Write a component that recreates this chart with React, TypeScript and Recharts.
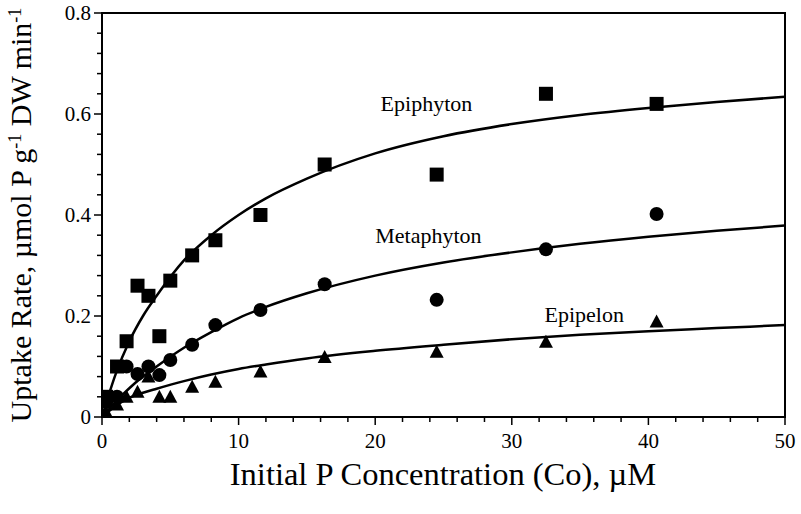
import { ComposedChart, XAxis, YAxis, Line, Scatter, ReferenceArea, ReferenceDot } from "recharts";

// measured uptake, shared concentrations (µM)
const concentrations = [0.3, 1.1, 1.8, 2.6, 3.4, 4.2, 5.0, 6.6, 8.3, 11.6, 16.3, 24.5, 32.5, 40.6];
const epiphytonRate = [0.04, 0.1, 0.15, 0.26, 0.24, 0.16, 0.27, 0.32, 0.35, 0.4, 0.5, 0.48, 0.64, 0.62];
const metaphytonRate = [0.03, 0.04, 0.1, 0.085, 0.1, 0.083, 0.113, 0.143, 0.182, 0.212, 0.263, 0.232, 0.332, 0.402];
const epipelonRate = [0.01, 0.025, 0.04, 0.05, 0.08, 0.04, 0.04, 0.06, 0.07, 0.09, 0.119, 0.129, 0.149, 0.189];

// fitted curves
const fitConc = [0, 1, 2, 3, 4, 6, 8, 10, 12, 15, 20, 25, 30, 35, 40, 45, 50];
const epiphytonFit = [0, 0.085, 0.15, 0.2, 0.24, 0.31, 0.36, 0.4, 0.433, 0.472, 0.522, 0.556, 0.58, 0.598, 0.612, 0.624, 0.634];
const metaphytonFit = [0, 0.03, 0.057, 0.08, 0.1, 0.137, 0.168, 0.196, 0.218, 0.245, 0.28, 0.306, 0.326, 0.343, 0.357, 0.369, 0.379];
const epipelonFit = [0, 0.022, 0.038, 0.048, 0.056, 0.071, 0.084, 0.095, 0.104, 0.116, 0.131, 0.143, 0.154, 0.163, 0.17, 0.176, 0.182];

const xTicks = Array.from({ length: 26 }, (_, i) => i * 2);
const xLabels = [0, 10, 20, 30, 40, 50];
const yTicks = Array.from({ length: 21 }, (_, i) => +(i * 0.04).toFixed(2));
const yLabels = [0, 0.2, 0.4, 0.6, 0.8];

const FONT = "'Liberation Serif', 'Times New Roman', serif";

const toPoints = (xs: number[], ys: number[]) => xs.map((x, i) => ({ x, y: ys[i] }));

const XTick = (props: any) => {
  const { x, y, payload } = props;
  const major = xLabels.includes(payload.value);
  return (
    <g>
      <line x1={x} x2={x} y1={y} y2={y + (major ? 8 : 5)} stroke="#000" strokeWidth={1.5} />
      {major && (
        <text x={x} y={y + 31} textAnchor="middle" fontSize={21} fontFamily={FONT} fill="#000">
          {payload.value}
        </text>
      )}
    </g>
  );
};

const YTick = (props: any) => {
  const { x, y, payload } = props;
  const major = yLabels.some((v) => Math.abs(v - payload.value) < 1e-6);
  return (
    <g>
      <line x1={x - (major ? 8 : 5)} x2={x} y1={y} y2={y} stroke="#000" strokeWidth={1.5} />
      {major && (
        <text x={x - 11} y={y + 7} textAnchor="end" fontSize={21} fontFamily={FONT} fill="#000">
          {String(payload.value)}
        </text>
      )}
    </g>
  );
};

const Square = (props: any) => <rect x={props.cx - 7} y={props.cy - 7} width={14} height={14} fill="#000" />;
const Circle = (props: any) => <circle cx={props.cx} cy={props.cy} r={7} fill="#000" />;
const Triangle = (props: any) => (
  <polygon
    points={`${props.cx},${props.cy - 7} ${props.cx + 7},${props.cy + 6} ${props.cx - 7},${props.cy + 6}`}
    fill="#000"
  />
);

const annotation = (value: string) => ({
  value,
  position: "center" as const,
  fontSize: 22,
  fontFamily: FONT,
  fill: "#000",
});

export default function App() {
  return (
    <div style={{ position: "absolute", left: 0, top: 0, width: 801, height: 514, background: "#fff" }}>
      <ComposedChart width={801} height={514} margin={{ top: 13, right: 16, bottom: 0, left: 0 }}>
        <XAxis
          type="number"
          dataKey="x"
          domain={[0, 50]}
          ticks={xTicks}
          interval={0}
          height={97}
          tickSize={0}
          tickMargin={0}
          axisLine={false}
          tick={<XTick />}
          allowDataOverflow
          label={{
            content: () => (
              <text x={443} y={485} textAnchor="middle" fontSize={32.5} fontFamily={FONT} fill="#000">
                Initial P Concentration (Co), µM
              </text>
            ),
          }}
        />
        <YAxis
          type="number"
          dataKey="y"
          domain={[0, 0.8]}
          ticks={yTicks}
          interval={0}
          width={102}
          tickSize={0}
          tickMargin={0}
          axisLine={false}
          tick={<YTick />}
          allowDataOverflow
          label={{
            content: () => (
              <text
                x={31}
                y={215}
                transform="rotate(-90, 31, 215)"
                textAnchor="middle"
                fontSize={30}
                fontFamily={FONT}
                fill="#000"
              >
                Uptake Rate, µmol P g
                <tspan baselineShift="super" fontSize={18}>-1</tspan>
                <tspan> DW min</tspan>
                <tspan baselineShift="super" fontSize={18}>-1</tspan>
              </text>
            ),
          }}
        />
        <ReferenceArea x1={0} x2={50} y1={0} y2={0.8} fill="none" stroke="#000" strokeWidth={2} />

        <Line data={toPoints(fitConc, epiphytonFit)} dataKey="y" type="monotone" stroke="#000" strokeWidth={2.5} dot={false} isAnimationActive={false} />
        <Line data={toPoints(fitConc, metaphytonFit)} dataKey="y" type="monotone" stroke="#000" strokeWidth={2.5} dot={false} isAnimationActive={false} />
        <Line data={toPoints(fitConc, epipelonFit)} dataKey="y" type="monotone" stroke="#000" strokeWidth={2.5} dot={false} isAnimationActive={false} />

        <Scatter data={toPoints(concentrations, epipelonRate)} shape={<Triangle />} isAnimationActive={false} />
        <Scatter data={toPoints(concentrations, metaphytonRate)} shape={<Circle />} isAnimationActive={false} />
        <Scatter data={toPoints(concentrations, epiphytonRate)} shape={<Square />} isAnimationActive={false} />

        <ReferenceDot x={23.75} y={0.622} r={0} fill="none" stroke="none" label={annotation("Epiphyton")} />
        <ReferenceDot x={23.9} y={0.361} r={0} fill="none" stroke="none" label={annotation("Metaphyton")} />
        <ReferenceDot x={35.3} y={0.204} r={0} fill="none" stroke="none" label={annotation("Epipelon")} />
      </ComposedChart>
    </div>
  );
}
